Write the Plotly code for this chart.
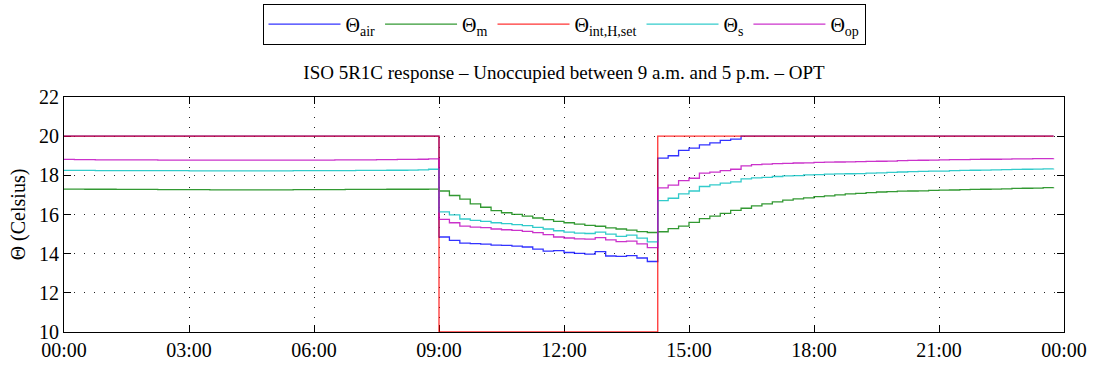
import pandas as pd
import plotly.graph_objects as go

# 15-minute time steps over one day
times = pd.date_range("2000-01-01 00:00", periods=96, freq="15min")

# Air temperature (Celsius): occupied 00:00-08:45, free-floating 09:00-14:00,
# recovery 14:15-16:00, back on setpoint from 16:15
air_night = [20.0] * 36
air_off = [14.85, 14.68, 14.54, 14.51, 14.49, 14.44, 14.42, 14.39, 14.34, 14.23, 14.13,
           14.16, 14.06, 14.01, 13.98, 14.10, 13.88, 13.86, 13.90, 13.78, 13.60]
air_recovery = [18.88, 19.00, 19.27, 19.39, 19.56, 19.66, 19.78, 19.85]
air_evening = [20.0] * 31
theta_air = air_night + air_off + air_recovery + air_evening

# Thermal mass temperature
m_night = [17.30, 17.30, 17.29, 17.29, 17.29, 17.28, 17.28, 17.28, 17.28, 17.27, 17.27, 17.27,
           17.27, 17.27, 17.26, 17.26, 17.26, 17.26, 17.26, 17.26, 17.26, 17.26, 17.27, 17.27,
           17.27, 17.27, 17.27, 17.28, 17.28, 17.28, 17.28, 17.29, 17.29, 17.29, 17.29, 17.30]
m_off = [17.20, 16.97, 16.78, 16.54, 16.37, 16.20, 16.09, 16.01, 15.92, 15.82, 15.74,
         15.65, 15.58, 15.51, 15.44, 15.40, 15.32, 15.26, 15.20, 15.13, 15.08]
m_on = [15.12, 15.28, 15.41, 15.60, 15.79, 15.92, 16.06, 16.21, 16.32, 16.44, 16.54,
        16.64, 16.73, 16.80, 16.85, 16.91, 16.95, 17.00, 17.05, 17.08, 17.12, 17.15, 17.17,
        17.19, 17.20, 17.21, 17.23, 17.24, 17.25, 17.27, 17.28, 17.29, 17.30, 17.31, 17.33,
        17.34, 17.35, 17.37, 17.38]
theta_m = m_night + m_off + m_on

# Heating setpoint
set_night = [20.0] * 36
set_off = [10.0] * 21
set_on = [20.0] * 39
theta_set = set_night + set_off + set_on

# Surface temperature
s_night = [18.25, 18.25, 18.25, 18.24, 18.24, 18.24, 18.24, 18.24, 18.24, 18.24, 18.24, 18.24,
           18.23, 18.23, 18.23, 18.23, 18.23, 18.23, 18.23, 18.23, 18.23, 18.23, 18.24, 18.24,
           18.24, 18.24, 18.24, 18.24, 18.25, 18.25, 18.25, 18.26, 18.26, 18.27, 18.28, 18.31]
s_off = [16.13, 15.98, 15.77, 15.70, 15.65, 15.58, 15.53, 15.48, 15.43, 15.34, 15.26,
         15.17, 15.10, 15.05, 15.03, 15.10, 15.00, 14.88, 14.95, 14.79, 14.60]
s_on = [16.71, 16.83, 17.05, 17.20, 17.43, 17.51, 17.60, 17.67, 17.82, 17.87, 17.90,
        17.94, 17.97, 17.99, 18.02, 18.04, 18.06, 18.07, 18.08, 18.09, 18.11, 18.13, 18.15,
        18.17, 18.19, 18.20, 18.21, 18.22, 18.24, 18.25, 18.26, 18.27, 18.28, 18.29, 18.30,
        18.31, 18.32, 18.33, 18.34]
theta_s = s_night + s_off + s_on

# Operative temperature
op_night = [18.81, 18.80, 18.80, 18.79, 18.79, 18.79, 18.79, 18.79, 18.79, 18.78, 18.78, 18.78,
            18.78, 18.78, 18.78, 18.78, 18.78, 18.78, 18.78, 18.78, 18.78, 18.78, 18.78, 18.78,
            18.78, 18.78, 18.79, 18.79, 18.79, 18.79, 18.80, 18.80, 18.81, 18.81, 18.82, 18.84]
op_off = [15.75, 15.58, 15.41, 15.36, 15.33, 15.26, 15.22, 15.19, 15.14, 15.07, 14.97,
          14.85, 14.80, 14.76, 14.74, 14.82, 14.70, 14.61, 14.64, 14.50, 14.31]
op_on = [17.36, 17.50, 17.73, 17.85, 18.11, 18.16, 18.24, 18.31, 18.48, 18.55, 18.57,
         18.60, 18.61, 18.63, 18.64, 18.66, 18.67, 18.68, 18.69, 18.70, 18.71, 18.72, 18.73,
         18.75, 18.76, 18.77, 18.78, 18.79, 18.80, 18.80, 18.81, 18.82, 18.82, 18.83, 18.84,
         18.84, 18.85, 18.85, 18.86]
theta_op = op_night + op_off + op_on

series = [
    ("Θ<sub>air</sub>", theta_air, "#0000ff"),
    ("Θ<sub>m</sub>", theta_m, "#008000"),
    ("Θ<sub>int,H,set</sub>", theta_set, "#ff0000"),
    ("Θ<sub>s</sub>", theta_s, "#00bfbf"),
    ("Θ<sub>op</sub>", theta_op, "#bf00bf"),
]

FONT = "Liberation Serif"

fig = go.Figure()
for name, values, color in series:
    fig.add_trace(go.Scatter(
        x=times, y=values, name=name, mode="lines",
        line=dict(color=color, width=1.3, shape="hv"),
        opacity=0.8, cliponaxis=False,
    ))

axis_common = dict(
    showline=True, linecolor="black", linewidth=1, mirror="ticks",
    ticks="inside", ticklen=7, tickcolor="black", tickwidth=1,
    showgrid=True, gridcolor="#222222", gridwidth=1, griddash="1px,9px",
    zeroline=False, layer="below traces", automargin=False,
    tickfont=dict(family=FONT, size=20, color="black"),
)

fig.update_xaxes(
    range=["2000-01-01 00:00", "2000-01-02 00:00"],
    dtick=3 * 3600 * 1000, tickformat="%H:%M",
    **axis_common,
)
fig.update_yaxes(
    range=[10, 22], dtick=2,
    title=dict(text="Θ (Celsius)", font=dict(family=FONT, size=20, color="black"), standoff=8),
    **axis_common,
)

fig.update_layout(
    width=1094, height=367,
    margin=dict(l=64, r=30, t=97, b=35),
    paper_bgcolor="white", plot_bgcolor="white",
    font=dict(family=FONT, color="black"),
    title=dict(
        text="ISO 5R1C response – Unoccupied between 9 a.m. and 5 p.m. – OPT",
        font=dict(family=FONT, size=19, color="black"),
        x=0.5, xref="paper", xanchor="center",
        y=0.804, yref="container", yanchor="middle",
    ),
    legend=dict(
        orientation="h", x=0.5, xanchor="center", xref="paper",
        y=0.99, yanchor="top", yref="container",
        bordercolor="black", borderwidth=1, bgcolor="white",
        font=dict(family=FONT, size=20, color="black"),
        itemwidth=72,
    ),
    showlegend=True,
)

fig.write_html("out.html")
